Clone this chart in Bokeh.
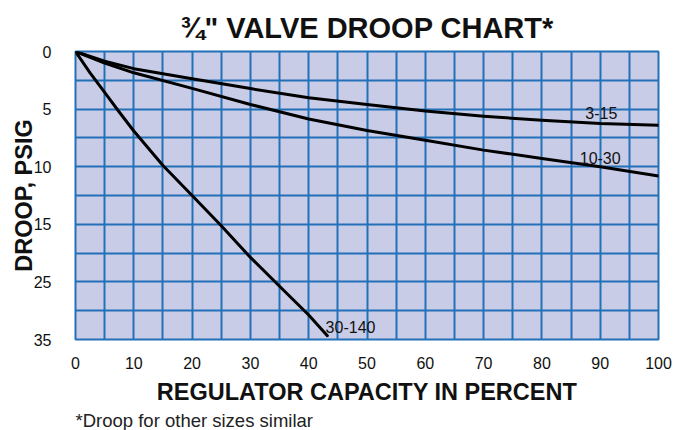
from bokeh.plotting import figure
from bokeh.models import Range1d, FixedTicker, Title, ColumnDataSource
from bokeh.core.properties import value
from bokeh.embed import file_html
from bokeh.resources import INLINE

# ---- data ----
capacity_3_15 = [0, 5, 10, 20, 30, 40, 50, 60, 70, 80, 90, 100]
droop_3_15 = [0, 0.85, 1.49, 2.36, 3.22, 4.02, 4.6, 5.16, 5.62, 5.97, 6.25, 6.4]

capacity_10_30 = [0, 5, 10, 20, 30, 40, 50, 60, 70, 80, 90, 100]
droop_10_30 = [0, 1.0, 1.85, 3.2, 4.6, 5.86, 6.85, 7.7, 8.56, 9.28, 10.0, 10.8]

capacity_30_140 = [0, 2.5, 5, 7.5, 10, 15, 20, 25, 30, 35, 40, 43.2]
droop_30_140 = [0, 1.85, 3.55, 5.25, 6.9, 9.9, 12.5, 15.25, 20.75, 25.75, 30.75, 34.35]

series_names = ["3-15", "10-30", "30-140"]
label_capacity = [90.2, 90.0, 42.9]
label_droop = [5.36, 9.26, 32.9]
label_align = ["center", "center", "left"]

x_tick_values = [0, 10, 20, 30, 40, 50, 60, 70, 80, 90, 100]
y_tick_values = [0, 5, 10, 15, 25, 35]
y_grid_values = [0, 2.5, 5, 7.5, 10, 12.5, 15, 20, 25, 30, 35]

footnote = "*Droop for other sizes similar"


# piecewise droop scale of the chart: 2.5 psig per row up to 15, then 5 per row
def row(d):
    return d / 2.5 if d <= 15 else 6 + (d - 15) / 5.0


GRID = "#2270b8"
BG = "#c9cce6"
SANS = "Liberation Sans"

p = figure(width=691, height=430,
           x_range=Range1d(0, 100), y_range=Range1d(10, 0),
           output_backend="svg", toolbar_location=None,
           min_border_left=75, min_border_right=33,
           min_border_top=51, min_border_bottom=90)

p.background_fill_color = BG
p.border_fill_color = "white"
p.outline_line_color = GRID
p.outline_line_width = 2
p.outline_line_alpha = 1

p.xgrid.ticker = FixedTicker(ticks=list(range(0, 101, 5)))
p.ygrid.ticker = FixedTicker(ticks=[row(v) for v in y_grid_values])
for g in (p.xgrid, p.ygrid):
    g.grid_line_color = GRID
    g.grid_line_width = 2
    g.grid_line_alpha = 1

p.xaxis.ticker = FixedTicker(ticks=x_tick_values)
p.yaxis.ticker = FixedTicker(ticks=[int(round(row(v))) for v in y_tick_values])
p.yaxis.major_label_overrides = {int(round(row(v))): str(v) for v in y_tick_values}

for ax in (p.xaxis, p.yaxis):
    ax.axis_line_color = None
    ax.major_tick_line_color = None
    ax.minor_tick_line_color = None
    ax.major_label_text_font = SANS
    ax.major_label_text_font_size = "16px"
    ax.major_label_text_color = "#111111"
    ax.axis_label_text_font = SANS
    ax.axis_label_text_font_style = "bold"
    ax.axis_label_text_font_size = "23.5px"
    ax.axis_label_text_color = "#111111"

p.xaxis.axis_label = "REGULATOR CAPACITY IN PERCENT"
p.xaxis.major_label_standoff = 11
p.xaxis.axis_label_standoff = 7
p.yaxis.axis_label = "DROOP, PSIG"
p.yaxis.major_label_standoff = 18
p.yaxis.axis_label_standoff = -6

p.title.text = '\u00be" VALVE DROOP CHART*'
p.title.align = "center"
p.title.text_font = SANS
p.title.text_font_size = "29px"
p.title.text_font_style = "bold"
p.title.text_color = "#111111"
p.title.standoff = 16

note = Title(text=footnote, align="left", text_font=SANS,
             text_font_size="18.5px", text_font_style="normal",
             text_color="#222222", standoff=0)
p.add_layout(note, "below")

curves = [(capacity_3_15, droop_3_15), (capacity_10_30, droop_10_30),
          (capacity_30_140, droop_30_140)]
for xs, ds in curves:
    p.line(xs, [row(d) for d in ds], line_color="black", line_width=3,
           line_join="round", line_cap="round")

lab = ColumnDataSource(dict(x=label_capacity, y=[row(d) for d in label_droop],
                            text=series_names, align=label_align))
p.text(x="x", y="y", text="text", source=lab, text_align="align",
       text_baseline="middle", text_font=value(SANS),
       text_font_size="16px", text_color="#111111")

open("out.html", "w").write(file_html(p, INLINE))
